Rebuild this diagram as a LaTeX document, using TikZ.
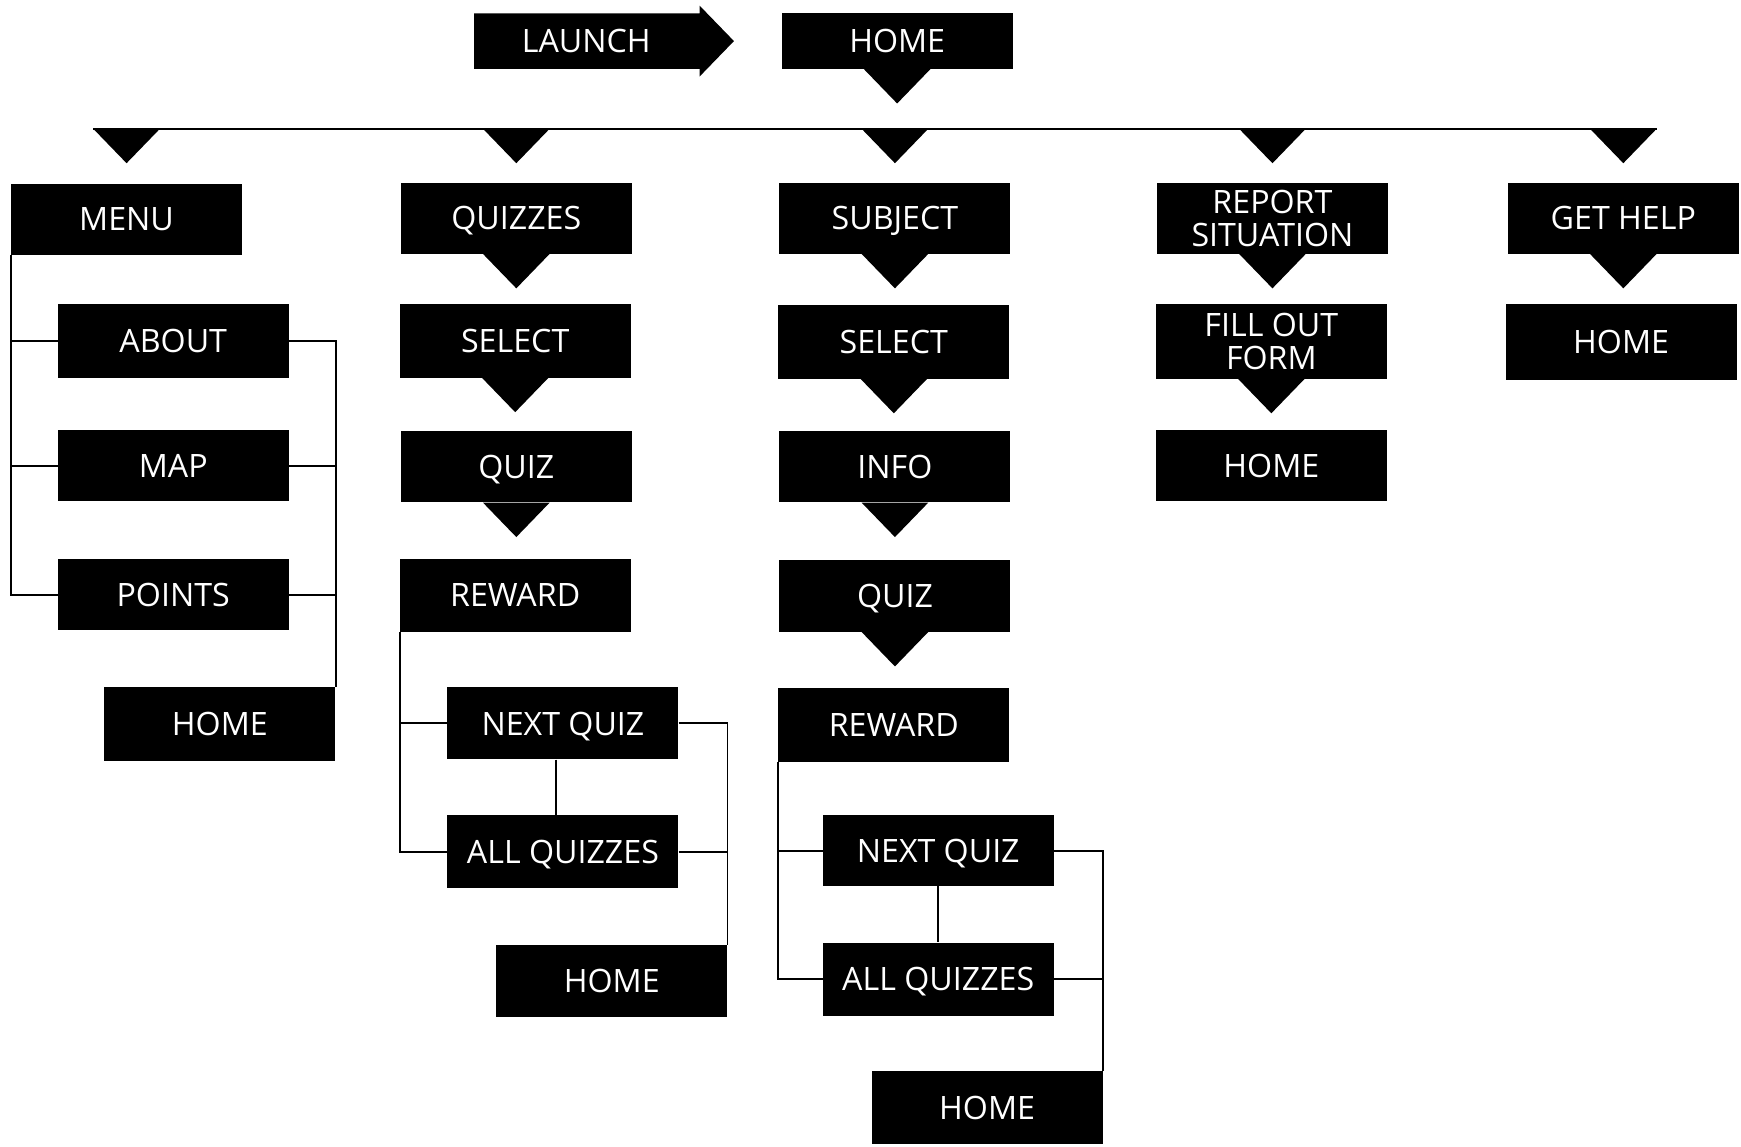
\documentclass[tikz,border=0pt]{standalone}
\usepackage{fontspec}
\setmainfont{Open Sans}
\newcommand{\tridown}[1]{\fill ([xshift=-30pt]#1) -- ([xshift=30pt]#1) -- ([yshift=-31pt]#1) -- cycle;}
\begin{document}
\begin{tikzpicture}[x=1pt,y=-1pt,
  box/.style={fill=black, text=white, minimum width=208pt, minimum height=64pt, inner sep=0pt,
    font=\fontsize{29}{30}\selectfont, text height=21pt, text depth=0pt},
  box2/.style={box, text height=, text depth=, align=center},
  wire/.style={line width=1.8pt, black}]
\useasboundingbox (0,0) rectangle (1568,1033);
% top
\fill (427,12) -- (630,12) -- (630,5) -- (661,37) -- (630,69) -- (630,62) -- (427,62) -- cycle;
\node[text=white, font=\fontsize{29}{30}\selectfont, text height=21pt, text depth=0pt, inner sep=0pt] (launch) at (528,37) {LAUNCH};
\node[box, minimum height=50pt] (home) at (808,37) {HOME};
\tridown{home.south}
% column heads
\node[box] (menu) at (114,197.5) {MENU};
\node[box] (quizzes) at (465,196.5) {QUIZZES};
\node[box] (subject) at (806,196.5) {SUBJECT};
\node[box2] (report) at (1146,196.5) {REPORT\\SITUATION};
\node[box] (gethelp) at (1462,196.5) {GET HELP};
% bus
\coordinate (bus) at (0,116);
\coordinate (b1) at (menu.north |- bus);
\coordinate (b2) at (quizzes.north |- bus);
\coordinate (b3) at (subject.north |- bus);
\coordinate (b4) at (report.north |- bus);
\coordinate (b5) at (gethelp.north |- bus);
\draw[wire] ([xshift=-30pt]b1) -- ([xshift=30pt]b5);
\tridown{b1}\tridown{b2}\tridown{b3}\tridown{b4}\tridown{b5}
% menu group
\node[box, minimum height=67pt] (about) at (156,307) {ABOUT};
\node[box] (map) at (156,419.5) {MAP};
\node[box] (points) at (156,535.5) {POINTS};
\node[box, minimum height=66pt] (mhome) at (198,652) {HOME};
\draw[wire] (menu.south west) |- (points.west);
\draw[wire] (menu.south west |- about.west) -- (about.west);
\draw[wire] (menu.south west |- map.west) -- (map.west);
\draw[wire] (about.east) -| (mhome.north east);
\draw[wire] (map.east) -- (map.east -| mhome.east);
\draw[wire] (points.east) -- (points.east -| mhome.east);
% quizzes group
\tridown{quizzes.south}
\node[box, minimum height=66pt] (qselect) at (464,307) {SELECT};
\tridown{qselect.south}
\node[box] (qquiz) at (465,420.5) {QUIZ};
\tridown{qquiz.south}
\node[box, minimum height=66pt] (qreward) at (464,536) {REWARD};
\node[box, minimum height=65pt] (qnext) at (507,651.5) {NEXT QUIZ};
\node[box, minimum height=66pt] (qall) at (507,767) {ALL QUIZZES};
\node[box, minimum height=65pt] (qhome) at (551,883.5) {HOME};
\draw[wire] (qreward.south west) |- (qall.west);
\draw[wire] (qreward.south west |- qnext.west) -- (qnext.west);
\draw[wire] ([xshift=-6pt]qnext.south) -- ([xshift=-6pt]qall.north);
\draw[wire] (qnext.east) -| (qhome.north east);
\draw[wire] (qall.east) -- (qall.east -| qhome.east);
% subject group
\tridown{subject.south}
\node[box, minimum height=66pt] (sselect) at (805,308) {SELECT};
\tridown{sselect.south}
\node[box] (sinfo) at (806,420.5) {INFO};
\tridown{sinfo.south}
\node[box, minimum height=65pt] (squiz) at (806,536.5) {QUIZ};
\tridown{squiz.south}
\node[box, minimum height=66pt] (sreward) at (805,653) {REWARD};
\node[box] (snext) at (845,766) {NEXT QUIZ};
\node[box, minimum height=66pt] (sall) at (845,882) {ALL QUIZZES};
\node[box, minimum height=65pt] (shome) at (889,997.5) {HOME};
\draw[wire] (sreward.south west) |- (sall.west);
\draw[wire] (sreward.south west |- snext.west) -- (snext.west);
\draw[wire] (snext.south) -- (sall.north);
\draw[wire] (snext.east) -| (shome.north east);
\draw[wire] (sall.east) -- (sall.east -| shome.east);
% report group
\tridown{report.south}
\node[box2, minimum height=67pt] (fill) at (1145,307.5) {FILL OUT\\FORM};
\tridown{fill.south}
\node[box] (rhome) at (1145,419.5) {HOME};
% get help group
\tridown{gethelp.south}
\node[box, minimum height=68pt] (ghome) at (1460,308) {HOME};
\end{tikzpicture}
\end{document}
